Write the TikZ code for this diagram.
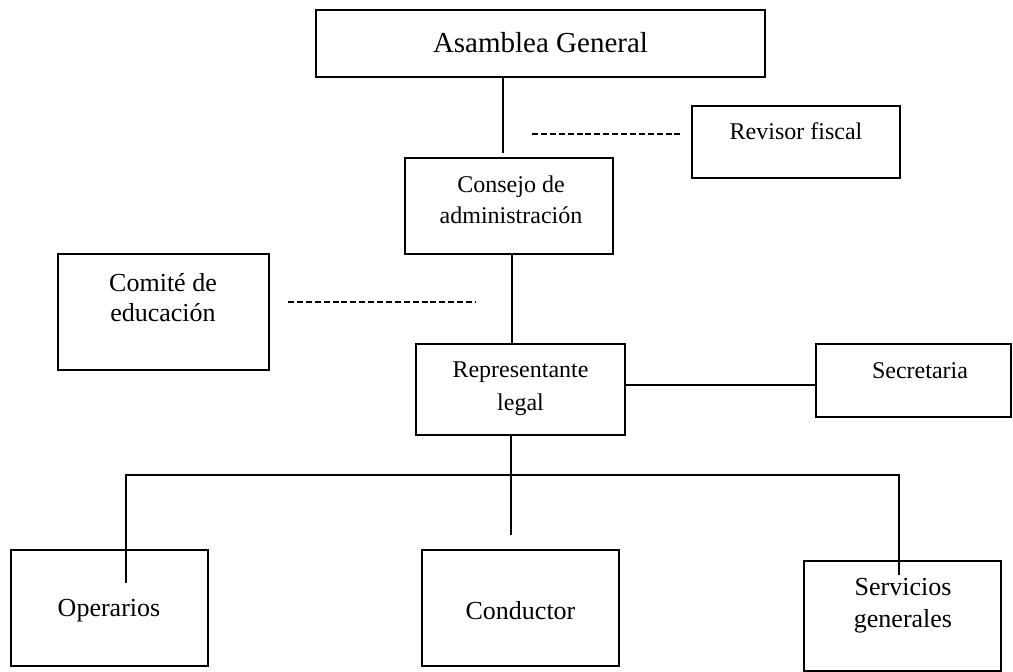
\documentclass[tikz,border=0pt]{standalone}
\usepackage{fontspec}
\setmainfont{Liberation Serif}
\begin{document}
\begin{tikzpicture}[x=1pt,y=-1pt,line width=1.3pt,
	caja/.style={draw,rectangle,inner sep=0pt,line width=1.6pt},
	grande/.style={font=\fontsize{29}{35}\selectfont},
	medio/.style={align=center,font=\fontsize{26}{30}\selectfont},
	chico/.style={align=center,font=\fontsize{24}{31}\selectfont},
	rayas/.style={dash pattern=on 6pt off 2.9pt,line width=1.2pt}]
	\useasboundingbox (0,0) rectangle (1013,672);
	% cajas
	\node[caja,minimum width=449,minimum height=67] (asamblea) at (540.5,43.5) {};
	\node[caja,minimum width=208,minimum height=72] (revisor) at (796,142) {};
	\node[caja,minimum width=208,minimum height=96] (consejo) at (509,206) {};
	\node[caja,minimum width=211,minimum height=116] (comite) at (163.5,312) {};
	\node[caja,minimum width=209,minimum height=91] (repr) at (520.5,389.5) {};
	\node[caja,minimum width=195,minimum height=73] (secretaria) at (913.5,380.5) {};
	\node[caja,minimum width=197,minimum height=116] (operarios) at (109.5,608) {};
	\node[caja,minimum width=197,minimum height=116] (conductor) at (520.5,608) {};
	\node[caja,minimum width=197,minimum height=110] (servicios) at (902.5,616) {};
	% textos
	\node[grande] (asamblea-t) at (540.5,43) {Asamblea General};
	\node[chico] (revisor-t) at (796,131) {Revisor fiscal};
	\node[chico] (consejo-t) at (511,200) {Consejo de\\administración};
	\node[medio] (comite-t) at (163,298) {Comité de\\educación};
	\node[chico,font=\fontsize{24}{33}\selectfont] (repr-t) at (520.5,389) {Representante\\legal};
	\node[chico] (secretaria-t) at (920,371) {Secretaria};
	\node[medio] (operarios-t) at (109,611) {Operarios};
	\node[medio] (conductor-t) at (520.5,611) {Conductor};
	\node[medio,font=\fontsize{26}{32}\selectfont] (servicios-t) at (903,606) {Servicios\\generales};
	% puntos libres
	\coordinate (fin1) at (503,153);
	\coordinate (eje) at (512,0);
	\coordinate (nivel) at (0,385);
	\coordinate (barra) at (0,475);
	\coordinate (fin2) at (511,535);
	\coordinate (fin3) at (126,583);
	\coordinate (fin4) at (899,575);
	\coordinate (r1) at (532,134);
	\coordinate (r2) at (682,134);
	\coordinate (c1) at (288,302);
	\coordinate (c2) at (475,302);
	% lineas
	\draw (asamblea.south -| fin1)--(fin1);
	\draw (consejo.south -| eje)--(repr.north -| eje);
	\draw (repr.east |- nivel)--(secretaria.west |- nivel);
	\draw (repr.south -| fin2)--(fin2);
	\draw (fin3)--(fin3 |- barra)--(fin4 |- barra)--(fin4);
	\draw[rayas] (r1)--(r2);
	\draw[rayas] (c1)--(c2);
\end{tikzpicture}
\end{document}
